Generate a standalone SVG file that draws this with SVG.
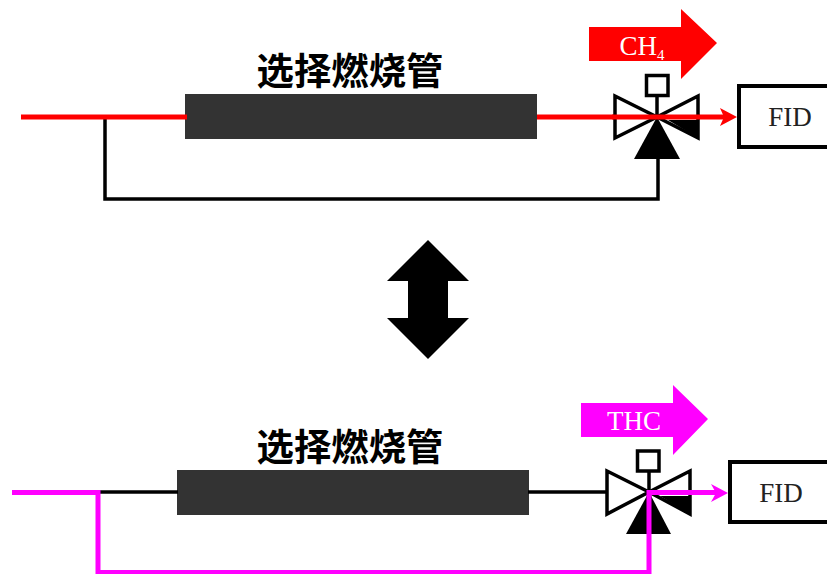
<svg xmlns="http://www.w3.org/2000/svg" width="827" height="574" viewBox="0 0 827 574">
<style>
.lbl{font-family:"Noto Sans CJK SC",sans-serif;font-size:37.400px;font-weight:700;fill:#000;text-anchor:middle}
.ser{font-family:"Liberation Serif",serif;font-size:27px;text-anchor:middle;fill:#222}
.wht{fill:#fff}
.k{fill:none;stroke:#000;stroke-width:3.500}
.v{fill:#fff;stroke:#000;stroke-width:3.500}
.box{fill:#fff;stroke:#000;stroke-width:4}
.tube{fill:#333}
.red{fill:none;stroke:#f00;stroke-width:5}
.mag{fill:none;stroke:#f0f;stroke-width:5}
</style>
<rect width="827" height="574" fill="#fff"/>
<g id="top-tube"><rect class="tube" x="185" y="94" width="352" height="45"/></g>
<g id="top-label"><text class="lbl" x="350" y="85">选择燃烧管</text></g>
<g id="top-connectors">
<path class="k" d="M105 117V199H658V155"/>
<path class="red" d="M21 117H187"/>
<path class="red" d="M537 117H730"/>
<path d="M737 117L720 108L724 117L720 126Z" fill="#f00"/>
</g>
<g id="top-valve">
<path class="v" d="M615 96L657 117L615 138Z"/>
<path class="v" d="M698 96L657 117L698 138Z"/>
<path d="M668 120H698V138Z" fill="#000"/>
<path d="M657 117L680 159H634Z" fill="#000"/>
<path class="k" d="M657 96V117"/>
<rect class="v" x="646.500" y="75.500" width="21.500" height="20"/>
<path class="red" d="M612 117H700"/>
</g>
<g id="top-fid"><rect class="box" x="739" y="86" width="100" height="61"/><text class="ser" x="790" y="126">FID</text></g>
<g id="top-flow"><path d="M589 27H681V9L717 43L681 79V61H589Z" fill="#f00"/>
<text class="ser" style="fill:#fff" x="642" y="55">CH<tspan font-size="15" dy="5">4</tspan></text></g>
<g id="double-arrow"><path d="M428 240L469 281H448V318H469L428 359L387 318H408V281H387Z" fill="#000"/></g>
<g id="bottom-tube"><rect class="tube" x="177" y="470" width="352" height="45"/></g>
<g id="bottom-label"><text class="lbl" x="350" y="461">选择燃烧管</text></g>
<g id="bottom-connectors">
<path class="k" d="M100 492H178"/>
<path class="k" d="M528 492H606"/>
<path class="mag" d="M12 492.500H98V572.500H649V492.500H722"/>
<path d="M728 493L711 484L716 493L711 502Z" fill="#f0f"/>
</g>
<g id="bottom-valve">
<path class="v" d="M607 471L649 492L607 514Z"/>
<path class="v" d="M690 471L649 492L690 514Z"/>
<path d="M660 496H690V514Z" fill="#000"/>
<path d="M649 492L671 534H626Z" fill="#000"/>
<path class="k" d="M649 471V492"/>
<rect class="v" x="637.500" y="451" width="21.500" height="20"/>
<path class="mag" d="M649 534V492.500H700"/>
</g>
<g id="bottom-fid"><rect class="box" x="730" y="462" width="100" height="60"/><text class="ser" x="781" y="502">FID</text></g>
<g id="bottom-flow"><path d="M581 403H673V385L708 419L673 455V437H581Z" fill="#f0f"/>
<text class="ser" style="fill:#fff" x="634" y="430">THC</text></g>
</svg>
